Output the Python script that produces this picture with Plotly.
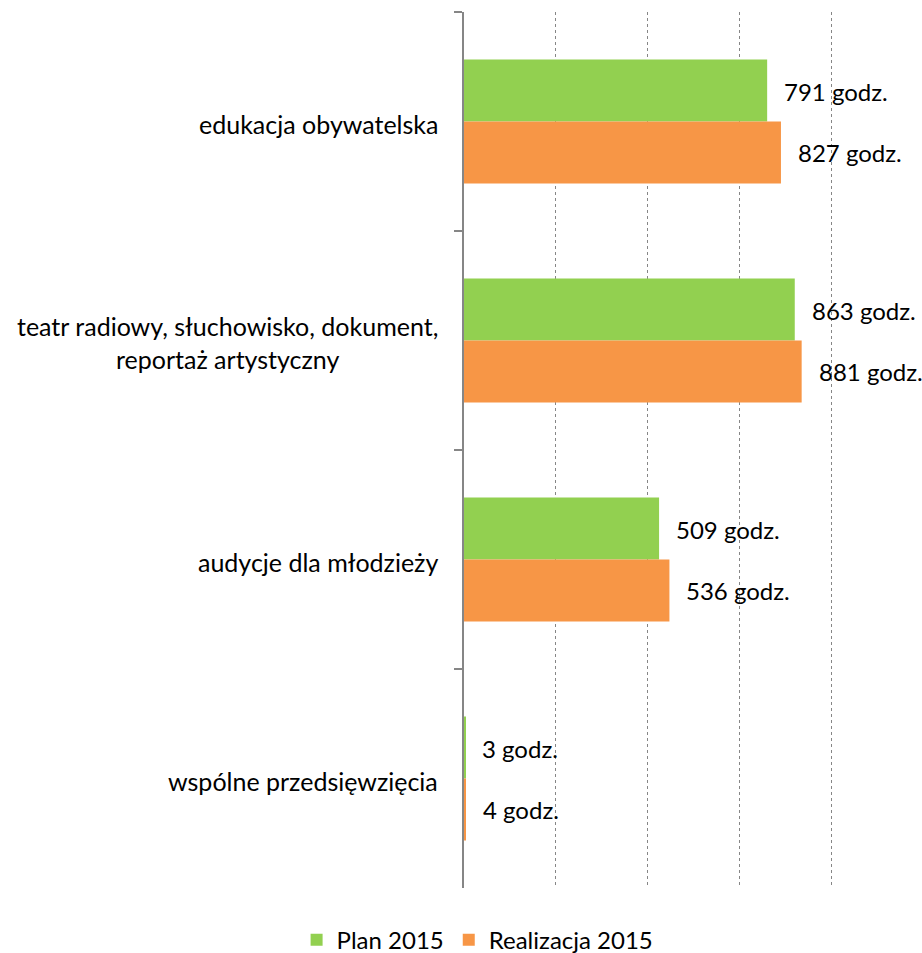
import plotly.graph_objects as go

# ---- data ----
categories = [
    "edukacja obywatelska",
    "teatr radiowy, słuchowisko, dokument,<br>reportaż artystyczny",
    "audycje dla młodzieży",
    "wspólne przedsięwzięcia",
]
plan_2015 = [791, 863, 509, 3]
realizacja_2015 = [827, 881, 536, 4]
series_names = ["Plan 2015", "Realizacja 2015"]
unit = "godz."

# ---- styles ----
GREEN = "#92D050"
ORANGE = "#F79646"
AXIS_GRAY = "#868686"
FONT = "Lato"
FS = 24

fig = go.Figure()
fig.add_trace(go.Bar(y=categories, x=plan_2015, orientation="h", name=series_names[0],
                     marker=dict(color=GREEN, line=dict(width=0))))
fig.add_trace(go.Bar(y=categories, x=realizacja_2015, orientation="h", name=series_names[1],
                     marker=dict(color=ORANGE, line=dict(width=0))))

annotations = []
# value labels
for vals, ys in ((plan_2015, 30), (realizacja_2015, -31)):
    for cat, v in zip(categories, vals):
        annotations.append(dict(x=v, y=cat, xref="x", yref="y", text=f"{v} {unit}",
                                showarrow=False, xanchor="left", yanchor="middle",
                                xshift=15, yshift=ys,
                                font=dict(family=FONT, size=FS, color="#000000")))
# category labels (centered multi-line)
for cat in categories:
    annotations.append(dict(x=0, y=cat, xref="paper", yref="y", text=cat,
                            showarrow=False, xanchor="right", yanchor="middle",
                            xshift=-24, yshift=-2, align="center",
                            font=dict(family=FONT, size=25, color="#000000")))

fig.update_layout(
    width=922, height=953,
    margin=dict(l=464, r=0, t=12, b=65),
    paper_bgcolor="white", plot_bgcolor="white",
    font=dict(family=FONT, size=FS, color="#000000"),
    barmode="group", bargap=0.434, bargroupgap=0,
    annotations=annotations,
    legend=dict(orientation="h", xref="container", yref="container",
                x=0.518, xanchor="center", y=0.0136, yanchor="middle",
                font=dict(family=FONT, size=FS), traceorder="normal"),
    xaxis=dict(range=[0, 1195], tick0=0, dtick=240, showgrid=True,
               gridcolor=AXIS_GRAY, griddash="dot", gridwidth=1,
               showticklabels=False, zeroline=False, showline=False, ticks=""),
    yaxis=dict(autorange="reversed", showline=True, linecolor=AXIS_GRAY, linewidth=2,
               ticks="outside", tickson="boundaries", ticklen=8, tickcolor=AXIS_GRAY,
               tickwidth=2, showticklabels=False, showgrid=False, zeroline=False),
)

fig.write_html("out.html", config={"displayModeBar": False},
               post_script="document.body.style.margin='0px';document.body.style.overflow='hidden';")
